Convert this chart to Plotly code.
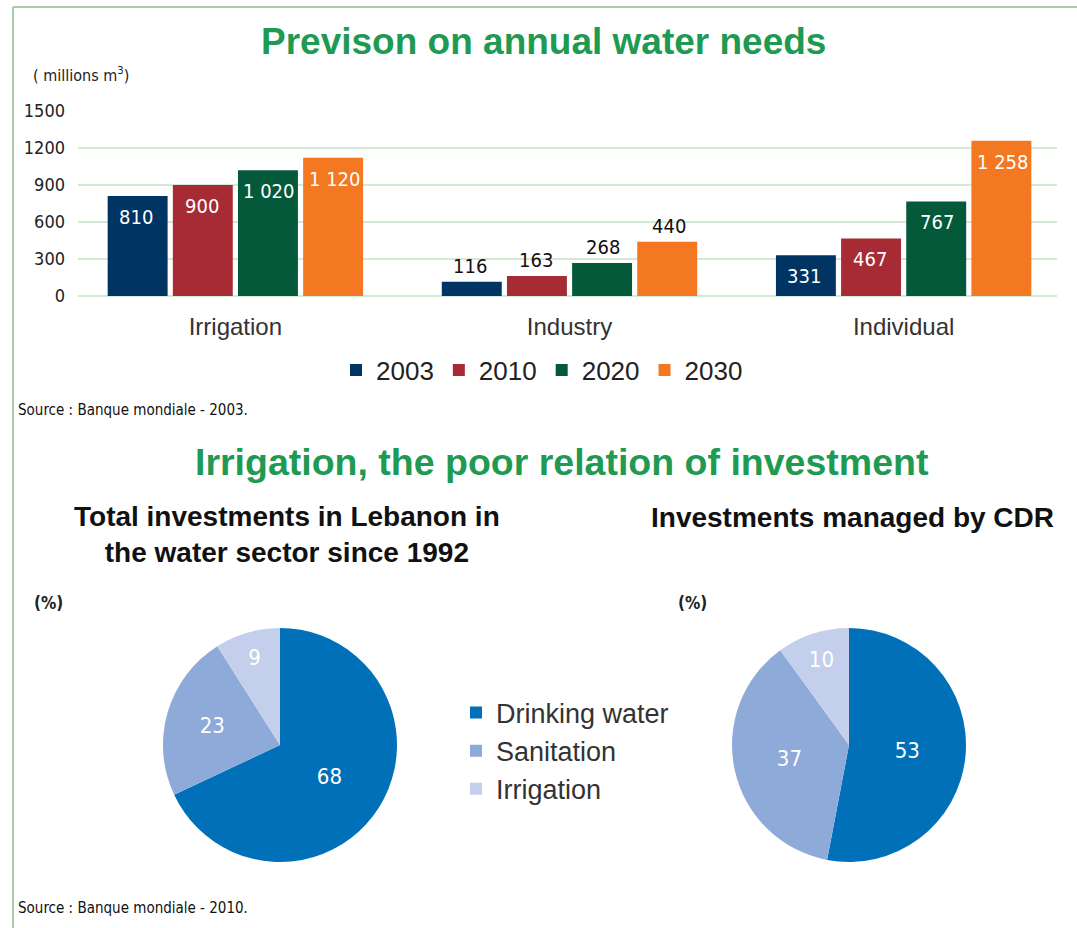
import plotly.graph_objects as go

# ---------------- data ----------------
categories = ["Irrigation", "Industry", "Individual"]
years = ["2003", "2010", "2020", "2030"]
needs_2003 = [810, 116, 331]
needs_2010 = [900, 163, 467]
needs_2020 = [1020, 268, 767]
needs_2030 = [1120, 440, 1258]
y_ticks = [0, 300, 600, 900, 1200, 1500]

pie_labels = ["Drinking water", "Sanitation", "Irrigation"]
total_invest = [68, 23, 9]
cdr_invest = [53, 37, 10]

# ---------------- styles ----------------
W, H = 1077, 928
bar_colors = ["#003462", "#a72b34", "#04593a", "#f47721"]
pie_colors = ["#0071b9", "#8eaad9", "#c4d0eb"]
green_title = "#1f9a52"
grid_col = "#d5e8d3"
border_col = "#a3cda9"
COND = "DejaVu Sans Condensed, sans-serif"
SANS = "Liberation Sans, Arial, sans-serif"


def px_x(p):
    return p / W


def px_y(p):
    return 1 - p / H


series = [needs_2003, needs_2010, needs_2020, needs_2030]

fig = go.Figure()
for name, vals, col in zip(years, series, bar_colors):
    fig.add_trace(go.Bar(
        x=categories, y=vals, name=name, marker=dict(color=col, line=dict(width=0)),
        legend="legend", hoverinfo="x+y+name",
    ))

for vals, x0, x1, show in [(total_invest, 163, 397, True), (cdr_invest, 732, 966, False)]:
    fig.add_trace(go.Pie(
        labels=pie_labels, values=vals, sort=False, direction="clockwise",
        marker=dict(colors=pie_colors, line=dict(width=0)),
        texttemplate="%{value}", textposition="inside", insidetextorientation="horizontal",
        textfont=dict(family=COND, size=22, color="white"),
        domain=dict(x=[px_x(x0), px_x(x1)], y=[px_y(862), px_y(628)]),
        legend="legend2", showlegend=show,
    ))

annotations = []
# bar value labels
for si, vals in enumerate(series):
    for ci, cat in enumerate(categories):
        v = vals[ci]
        txt = f"{v:,}".replace(",", " ")
        inside = cat != "Industry"
        annotations.append(dict(
            x=cat, y=v, xref="x", yref="y", text=txt, showarrow=False,
            xshift=(si - 1.5) * 66.5,
            yshift=-21 if inside else 16, yanchor="middle",
            font=dict(family=COND, size=20, color="white" if inside else "#111"),
        ))

texts = [
    dict(text="Previson on annual water needs", x=px_x(543), y=px_y(42), xanchor="center",
         font=dict(family=SANS, size=37, color=green_title, weight="bold")),
    dict(text="( millions m<sup>3</sup>)", x=px_x(31), y=px_y(75), xanchor="left",
         font=dict(family=COND, size=16, color="#222")),
    dict(text="Source : Banque mondiale - 2003.", x=px_x(16), y=px_y(410), xanchor="left",
         font=dict(family=COND, size=15, color="#111")),
    dict(text="Irrigation, the poor relation of investment", x=px_x(562), y=px_y(462), xanchor="center",
         font=dict(family=SANS, size=37.5, color=green_title, weight="bold")),
    dict(text="Total investments in Lebanon in<br>the water sector since 1992", x=px_x(287), y=px_y(534),
         xanchor="center", align="center",
         font=dict(family=SANS, size=28, color="#111", weight="bold")),
    dict(text="Investments managed by CDR", x=px_x(852), y=px_y(517), xanchor="center",
         font=dict(family=SANS, size=28, color="#111", weight="bold")),
    dict(text="(%)", x=px_x(32), y=px_y(603), xanchor="left",
         font=dict(family=COND, size=17, color="#222", weight="bold")),
    dict(text="(%)", x=px_x(676), y=px_y(603), xanchor="left",
         font=dict(family=COND, size=17, color="#222", weight="bold")),
    dict(text="Source : Banque mondiale - 2010.", x=px_x(16), y=px_y(908), xanchor="left",
         font=dict(family=COND, size=15, color="#111")),
]
for t in texts:
    t.update(xref="paper", yref="paper", showarrow=False, yanchor="middle")
    annotations.append(t)

fig.update_layout(
    width=W, height=H,
    margin=dict(l=0, r=0, t=0, b=0, autoexpand=False),
    paper_bgcolor="white", plot_bgcolor="white",
    barmode="group", bargap=0.22, bargroupgap=0.08,
    xaxis=dict(domain=[px_x(78), px_x(1057)], range=[-0.471, 2.459], showgrid=False,
               showline=False, ticks="", ticklabelstandoff=14, automargin=False,
               tickfont=dict(family=SANS, size=24, color="#333")),
    yaxis=dict(domain=[px_y(296), px_y(111)], range=[0, 1500], tickvals=y_ticks,
               tickformat="d", showgrid=True, gridcolor=grid_col, gridwidth=2,
               zeroline=True, zerolinecolor=grid_col, zerolinewidth=2, showline=False,
               ticklabelstandoff=12, automargin=False,
               tickfont=dict(family=COND, size=18, color="#222")),
    legend=dict(orientation="h", x=px_x(542), xanchor="center", y=px_y(370), yanchor="middle",
                font=dict(family=SANS, size=26, color="#222"), itemwidth=30,
                bgcolor="rgba(0,0,0,0)"),
    legend2=dict(orientation="v", x=px_x(456), xanchor="left", y=px_y(751), yanchor="middle",
                 font=dict(family=SANS, size=27, color="#333"), itemwidth=30,
                 bgcolor="rgba(0,0,0,0)", tracegroupgap=0),
    annotations=annotations,
    shapes=[
        dict(type="line", xref="paper", yref="paper", x0=px_x(13), x1=1, y0=px_y(7), y1=px_y(7),
             line=dict(color=border_col, width=2)),
        dict(type="line", xref="paper", yref="paper", x0=px_x(13), x1=px_x(13), y0=px_y(7), y1=0,
             line=dict(color=border_col, width=2)),
    ],
    showlegend=True,
)

fig.write_html(
    "out.html",
    config={"displayModeBar": False},
    post_script="document.body.style.margin='0';document.body.style.overflow='hidden';",
)
